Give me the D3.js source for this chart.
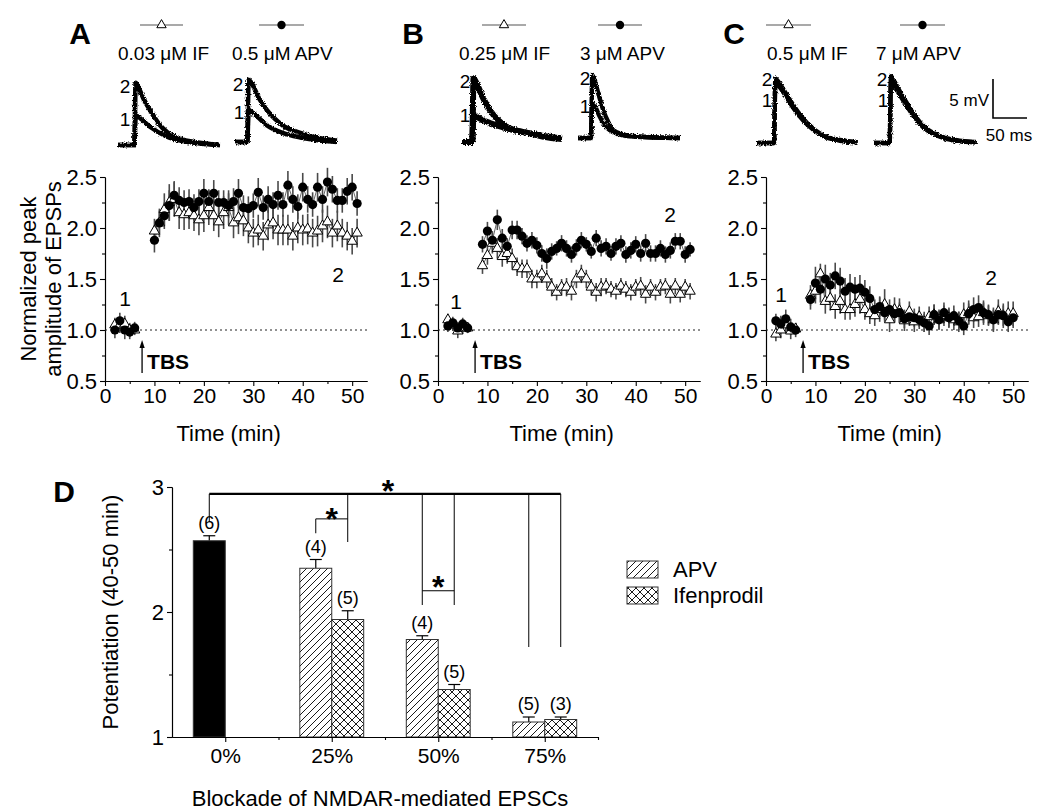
<!DOCTYPE html>
<html><head><meta charset="utf-8">
<script src="https://cdn.jsdelivr.net/npm/d3@7"></script>
<style>
body{margin:0;background:#fff}
svg{display:block}
text{font-family:Arial,"Liberation Sans",Helvetica,sans-serif;fill:#000}
</style>
</head><body>
<svg id="chart" width="1050" height="812"></svg>
<script>
// ---------------- DATA ----------------
const preT = [2,3,4,5,6];
const A_postT = [10,11,12,13,14,15,16,17,18,19,20,21,22,23,24,25,26,27,28,29,30,31,32,33,34,35,36,37,38,39,40,41,42,43,44,45,46,47,48,49,50,51];
const B_postT = [9,10,11,12,13,14,15,16,17,18,19,20,21,22,23,24,25,26,27,28,29,30,31,32,33,34,35,36,37,38,39,40,41,42,43,44,45,46,47,48,49,50,51];
const C_postT = [9,10,11,12,13,14,15,16,17,18,19,20,21,22,23,24,25,26,27,28,29,30,31,32,33,34,35,36,37,38,39,40,41,42,43,44,45,46,47,48,49,50];

// Panel A: 0.5 uM APV (circles) / 0.03 uM IF (triangles)
const A_apvPre = [1.00,1.09,1.00,0.98,1.02];
const A_apvPreErr = [0.08,0.08,0.09,0.07,0.06];
const A_ifPre = [1.05,1.05,1.06,1.00,1.00];
const A_ifPreErr = [0.07,0.08,0.08,0.07,0.05];
const A_apvPost = [1.88,2.05,2.12,2.22,2.32,2.27,2.25,2.26,2.20,2.26,2.34,2.26,2.34,2.25,2.25,2.22,2.26,2.34,2.20,2.19,2.22,2.35,2.20,2.28,2.23,2.32,2.23,2.42,2.28,2.21,2.40,2.28,2.23,2.40,2.28,2.45,2.38,2.27,2.27,2.36,2.40,2.24];
const A_apvPostErr = [0.12,0.12,0.13,0.15,0.14,0.13,0.12,0.12,0.13,0.12,0.14,0.12,0.13,0.12,0.12,0.12,0.13,0.14,0.12,0.12,0.12,0.14,0.12,0.13,0.12,0.14,0.12,0.14,0.13,0.12,0.14,0.13,0.12,0.14,0.13,0.14,0.13,0.12,0.12,0.13,0.13,0.12];
const A_ifPost = [1.97,2.05,2.18,2.25,2.28,2.15,2.13,2.15,2.12,2.08,2.12,2.20,2.12,2.06,2.15,2.20,2.05,2.10,2.07,2.00,1.95,1.98,1.92,2.03,2.05,1.98,1.98,1.98,1.92,2.00,1.98,1.99,1.95,1.97,2.02,2.06,1.95,2.02,1.95,1.92,1.87,1.95];
const A_ifPostErr = [0.12,0.14,0.16,0.18,0.17,0.16,0.15,0.16,0.15,0.15,0.16,0.17,0.15,0.15,0.16,0.17,0.15,0.16,0.15,0.15,0.14,0.15,0.14,0.15,0.16,0.15,0.15,0.15,0.14,0.15,0.15,0.15,0.14,0.15,0.16,0.16,0.14,0.15,0.14,0.14,0.13,0.14];

// Panel B: 3 uM APV / 0.25 uM IF
const B_apvPre = [1.04,1.07,1.02,1.06,1.02];
const B_apvPreErr = [0.06,0.06,0.06,0.06,0.05];
const B_ifPre = [1.10,1.05,0.99,1.02,1.02];
const B_ifPreErr = [0.06,0.06,0.07,0.06,0.05];
const B_apvPost = [1.84,1.97,1.88,2.08,1.90,1.82,1.98,1.98,1.92,1.85,1.88,1.83,1.75,1.70,1.77,1.80,1.85,1.80,1.74,1.81,1.88,1.84,1.77,1.90,1.80,1.82,1.75,1.82,1.85,1.74,1.78,1.84,1.75,1.85,1.75,1.75,1.80,1.74,1.78,1.87,1.87,1.74,1.79];
const B_apvPostErr = [0.08,0.09,0.09,0.10,0.09,0.08,0.09,0.09,0.08,0.08,0.08,0.08,0.08,0.10,0.08,0.07,0.08,0.08,0.08,0.08,0.08,0.07,0.07,0.08,0.08,0.08,0.07,0.08,0.08,0.08,0.08,0.08,0.08,0.09,0.08,0.08,0.08,0.08,0.08,0.08,0.08,0.08,0.07];
const B_ifPost = [1.63,1.73,1.85,1.80,1.72,1.75,1.70,1.62,1.60,1.60,1.50,1.50,1.55,1.50,1.42,1.37,1.42,1.42,1.38,1.50,1.55,1.50,1.42,1.37,1.42,1.43,1.40,1.38,1.43,1.40,1.37,1.42,1.43,1.35,1.42,1.37,1.42,1.43,1.35,1.43,1.35,1.42,1.38];
const B_ifPostErr = [0.08,0.09,0.10,0.10,0.10,0.10,0.10,0.09,0.09,0.09,0.09,0.09,0.09,0.09,0.09,0.08,0.08,0.09,0.09,0.09,0.09,0.09,0.08,0.09,0.09,0.08,0.08,0.08,0.08,0.08,0.08,0.08,0.09,0.09,0.08,0.08,0.08,0.08,0.09,0.08,0.08,0.08,0.08];

// Panel C: 7 uM APV / 0.5 uM IF
const C_apvPre = [1.09,1.06,1.11,1.03,1.00];
const C_apvPreErr = [0.07,0.08,0.09,0.08,0.07];
const C_ifPre = [0.96,1.00,1.05,0.99,1.01];
const C_ifPreErr = [0.07,0.08,0.07,0.08,0.06];
const C_apvPost = [1.30,1.46,1.40,1.50,1.44,1.53,1.48,1.38,1.42,1.40,1.41,1.37,1.31,1.20,1.23,1.17,1.20,1.16,1.17,1.11,1.13,1.12,1.10,1.07,1.04,1.15,1.10,1.17,1.12,1.14,1.09,1.04,1.16,1.20,1.22,1.17,1.15,1.10,1.15,1.14,1.08,1.12];
const C_apvPostErr = [0.10,0.16,0.13,0.14,0.12,0.13,0.13,0.13,0.13,0.12,0.13,0.12,0.12,0.10,0.10,0.09,0.10,0.09,0.10,0.09,0.09,0.09,0.09,0.09,0.09,0.10,0.09,0.10,0.09,0.10,0.09,0.09,0.10,0.12,0.12,0.10,0.10,0.10,0.10,0.10,0.10,0.10];
const C_ifPost = [1.34,1.38,1.55,1.28,1.31,1.23,1.28,1.20,1.20,1.25,1.30,1.20,1.16,1.14,1.20,1.25,1.10,1.20,1.19,1.09,1.18,1.08,1.13,1.08,1.13,1.15,1.10,1.14,1.12,1.10,1.08,1.15,1.17,1.12,1.13,1.17,1.14,1.10,1.18,1.14,1.16,1.16];
const C_ifPostErr = [0.10,0.12,0.10,0.12,0.12,0.12,0.12,0.10,0.10,0.12,0.14,0.10,0.10,0.10,0.12,0.15,0.12,0.12,0.12,0.10,0.10,0.10,0.10,0.10,0.10,0.10,0.10,0.10,0.10,0.10,0.10,0.12,0.12,0.10,0.10,0.12,0.10,0.12,0.12,0.12,0.12,0.12];

const yTicks = [0.5,1.0,1.5,2.0,2.5];
const yMinor = [0.75,1.25,1.75,2.25];
const xTicks = [0,10,20,30,40,50];
const xMinor = [5,15,25,35,45];

// EPSP traces: [ms, mV]
const trA_IF_2 = [[0,0],[24,0],[26,8.2],[30,7.6],[38,6.0],[47,4.6],[60,2.8],[72,1.7],[96,0.7],[120,0.3],[150,0]];
const trA_IF_1 = [[0,0],[24,0],[26,3.9],[30,3.7],[47,2.4],[72,1.1],[96,0.5],[120,0.2],[150,0]];
const trA_APV_2 = [[0,0],[18,0],[20,8.2],[24,7.8],[35,5.8],[47,4.2],[58,3.1],[70,2.2],[96,1.2],[125,0.5],[150,0.2]];
const trA_APV_1 = [[0,0],[18,0],[20,4.2],[24,4.0],[47,2.2],[70,1.2],[96,0.6],[125,0.2],[150,0]];
const trB_IF_2 = [[0,0],[15,0],[17,8.4],[22,7.6],[32,5.6],[41,4.2],[54,2.8],[66,2.0],[96,1.2],[120,0.7],[147,0.4]];
const trB_IF_1 = [[0,0],[15,0],[17,3.6],[22,3.3],[41,2.5],[66,1.8],[96,1.2],[120,0.8],[147,0.5]];
const trB_APV_2 = [[0,0],[19,0],[21,8.3],[25,7.4],[31,5.5],[37,3.7],[44,2.2],[51,1.1],[65,0.5],[90,0.2],[150,0]];
const trB_APV_1 = [[0,0],[19,0],[21,4.6],[25,4.2],[31,3.0],[37,2.0],[51,0.8],[80,0.2],[150,0]];
const trC_IF_2 = [[0,0],[25,0],[27,8.5],[32,8.0],[40,6.9],[49,5.6],[61,4.0],[74,2.6],[97,1.0],[122,0.4],[148,0.1]];
const trC_IF_1 = [[0,0],[25,0],[27,7.9],[32,7.5],[40,6.5],[49,5.2],[61,3.7],[74,2.4],[97,0.9],[122,0.3],[148,0.1]];
const trC_APV_2 = [[0,0],[23,0],[25,8.8],[30,8.1],[38,6.8],[48,5.3],[60,3.6],[72,2.3],[95,1.0],[120,0.4],[151,0.1]];
const trC_APV_1 = [[0,0],[23,0],[25,8.0],[30,7.5],[38,6.3],[48,4.9],[60,3.3],[72,2.1],[95,0.9],[120,0.3],[151,0.1]];

// Panel D
const groups = ["0%","25%","50%","75%"];
const ctrlVal = [2.57], ctrlErr = [0.04], ctrlN = ["(6)"];
const apvGroups = [1,2,3];
const apvVal = [2.35,1.78,1.12], apvErr = [0.07,0.03,0.04], apvN = ["(4)","(4)","(5)"];
const ifVal = [1.94,1.38,1.14], ifErr = [0.07,0.04,0.02], ifN = ["(5)","(5)","(3)"];
const dTicks = [1,2,3], dMinor = [1.5,2.5];

// ---------------- DRAW ----------------
const svg = d3.select("#chart");
const FONT = 'Arial,"Liberation Sans",sans-serif';

// noisy-recording texture for the EPSP traces
const defs = svg.append("defs");
const flt = defs.append("filter").attr("id", "noisy").attr("x", "-10%").attr("y", "-20%")
  .attr("width", "120%").attr("height", "140%");
flt.append("feTurbulence").attr("type", "fractalNoise").attr("baseFrequency", "0.9")
  .attr("numOctaves", 1).attr("seed", 3).attr("result", "turb");
flt.append("feDisplacementMap").attr("in", "SourceGraphic").attr("in2", "turb")
  .attr("scale", 4).attr("xChannelSelector", "R").attr("yChannelSelector", "G");

function text(x, y, s, size, opts = {}) {
  const t = svg.append("text").attr("x", x).attr("y", y).text(s)
    .attr("font-size", size).attr("text-anchor", opts.anchor || "middle");
  if (opts.bold) t.attr("font-weight", "bold");
  return t;
}

const tri = d3.symbol().type(d3.symbolTriangle).size(46);

function panel(cfg) {
  const x = d3.scaleLinear().domain([0, 53]).range([cfg.left, cfg.left + 262]);
  const y = d3.scaleLinear().domain([0.5, 2.5]).range([381, 177]);
  const g = svg.append("g");

  // axes
  const ya = g.append("g").attr("transform", `translate(${cfg.left},0)`)
    .call(d3.axisLeft(y).tickValues(yTicks).tickFormat(d3.format(".1f")).tickSize(5).tickSizeOuter(0).tickPadding(3));
  g.append("g").attr("transform", `translate(${cfg.left},0)`)
    .call(d3.axisLeft(y).tickValues(yMinor).tickFormat("").tickSize(3).tickSizeOuter(0));
  const xa = g.append("g").attr("transform", "translate(0,381)")
    .call(d3.axisBottom(x).tickValues(xTicks).tickFormat(d3.format("d")).tickSize(5).tickSizeOuter(0).tickPadding(2));
  g.append("g").attr("transform", "translate(0,381)")
    .call(d3.axisBottom(x).tickValues(xMinor).tickFormat("").tickSize(3).tickSizeOuter(0));
  g.selectAll(".domain, .tick line").attr("stroke", "#000").attr("stroke-width", 1.1);
  ya.selectAll("text").attr("font-size", 22).attr("font-family", FONT).attr("dy", "0.35em");
  xa.selectAll("text").attr("font-size", 21).attr("font-family", FONT);

  // dotted baseline
  g.append("line").attr("x1", x(0)).attr("x2", x(53)).attr("y1", y(1)).attr("y2", y(1))
    .attr("stroke", "#222").attr("stroke-dasharray", "2,3").attr("stroke-width", 1);

  const series = [
    {t: preT, v: cfg.ifPre, e: cfg.ifPreErr, kind: "tri"},
    {t: cfg.postT, v: cfg.ifPost, e: cfg.ifPostErr, kind: "tri"},
    {t: preT, v: cfg.apvPre, e: cfg.apvPreErr, kind: "dot"},
    {t: cfg.postT, v: cfg.apvPost, e: cfg.apvPostErr, kind: "dot"}
  ];
  // error bars
  series.forEach(s => {
    g.append("g").selectAll("line").data(s.v).join("line")
      .attr("x1", (d, i) => x(s.t[i])).attr("x2", (d, i) => x(s.t[i]))
      .attr("y1", (d, i) => y(d - s.e[i])).attr("y2", (d, i) => y(d + s.e[i]))
      .attr("stroke", "#4a4a4a").attr("stroke-width", 1.6);
  });
  // connecting lines
  series.forEach(s => {
    const line = d3.line().x((d, i) => x(s.t[i])).y(d => y(d));
    g.append("path").attr("d", line(s.v)).attr("fill", "none")
      .attr("stroke", "#666").attr("stroke-width", 1);
  });
  // markers
  series.filter(s => s.kind === "tri").forEach(s => {
    g.append("g").selectAll("path").data(s.v).join("path")
      .attr("d", tri).attr("transform", (d, i) => `translate(${x(s.t[i])},${y(d)})`)
      .attr("fill", "#fff").attr("stroke", "#000").attr("stroke-width", 1);
  });
  series.filter(s => s.kind === "dot").forEach(s => {
    g.append("g").selectAll("circle").data(s.v).join("circle")
      .attr("cx", (d, i) => x(s.t[i])).attr("cy", d => y(d)).attr("r", 4.6).attr("fill", "#000");
  });

  // TBS arrow
  const ax = x(7.5);
  g.append("line").attr("x1", ax).attr("x2", ax).attr("y1", 373).attr("y2", 346)
    .attr("stroke", "#000").attr("stroke-width", 1.3);
  g.append("path").attr("d", `M${ax},340 L${ax - 2.6},348 L${ax + 2.6},348 Z`).attr("fill", "#000");
  text(ax + 5, 369, "TBS", 21, {anchor: "start", bold: true});

  // 1 and 2 labels
  text(cfg.l1[0], cfg.l1[1], "1", 21);
  text(cfg.l2[0], cfg.l2[1], "2", 21);

  // x title
  text(x(25), 441, "Time (min)", 22);

  // panel letter
  text(cfg.letter[0], 44, cfg.letter[2], 30, {bold: true});

  // legends above traces
  cfg.legend.forEach(L => {
    g.append("line").attr("x1", L.x1).attr("x2", L.x2).attr("y1", 25).attr("y2", 25)
      .attr("stroke", "#555").attr("stroke-width", 1.2);
    if (L.kind === "tri") {
      g.append("path").attr("d", d3.symbol().type(d3.symbolTriangle).size(38))
        .attr("transform", `translate(${(L.x1 + L.x2) / 2},25)`)
        .attr("fill", "#fff").attr("stroke", "#000").attr("stroke-width", 1);
    } else {
      g.append("circle").attr("cx", (L.x1 + L.x2) / 2).attr("cy", 25).attr("r", 4.2).attr("fill", "#000");
    }
    text(L.tx, 60, L.label, 19, {anchor: "start"});
  });

  // traces
  cfg.traces.forEach(T => {
    const tx = d3.scaleLinear().domain([0, 150]).range([T.x0, T.x0 + 102]);
    const ty = d3.scaleLinear().domain([0, 5]).range([T.y0, T.y0 - 38]);
    const line = d3.line().x(d => tx(d[0])).y(d => ty(d[1])).curve(d3.curveMonotoneX);
    const tg = g.append("g").attr("filter", "url(#noisy)");
    [T.t1, T.t2].forEach(tr => {
      tg.append("path").attr("d", line(tr)).attr("fill", "none").attr("stroke", "#000")
        .attr("stroke-width", T.w).attr("stroke-linejoin", "round");
    });
    text(T.lab2[0], T.lab2[1], "2", 19);
    text(T.lab1[0], T.lab1[1], "1", 19);
  });
}

panel({
  left: 105, postT: A_postT,
  apvPre: A_apvPre, apvPreErr: A_apvPreErr, ifPre: A_ifPre, ifPreErr: A_ifPreErr,
  apvPost: A_apvPost, apvPostErr: A_apvPostErr, ifPost: A_ifPost, ifPostErr: A_ifPostErr,
  l1: [125, 306], l2: [338, 282], letter: [80, 0, "A"],
  legend: [{x1: 140, x2: 183, kind: "tri", tx: 118, label: "0.03 \u03BCM IF"},
           {x1: 259, x2: 304, kind: "dot", tx: 232, label: "0.5 \u03BCM APV"}],
  traces: [{x0: 118, y0: 145, t1: trA_IF_1, t2: trA_IF_2, w: 4.6, lab2: [125, 93], lab1: [125, 126]},
           {x0: 235, y0: 142, t1: trA_APV_1, t2: trA_APV_2, w: 4.6, lab2: [238, 91], lab1: [239, 119]}]
});
panel({
  left: 438, postT: B_postT,
  apvPre: B_apvPre, apvPreErr: B_apvPreErr, ifPre: B_ifPre, ifPreErr: B_ifPreErr,
  apvPost: B_apvPost, apvPostErr: B_apvPostErr, ifPost: B_ifPost, ifPostErr: B_ifPostErr,
  l1: [456, 309], l2: [670, 222], letter: [413, 0, "B"],
  legend: [{x1: 482, x2: 526, kind: "tri", tx: 459, label: "0.25 \u03BCM IF"},
           {x1: 598, x2: 642, kind: "dot", tx: 580, label: "3 \u03BCM APV"}],
  traces: [{x0: 462, y0: 142, t1: trB_IF_1, t2: trB_IF_2, w: 6, lab2: [465, 88], lab1: [465, 122]},
           {x0: 578, y0: 138, t1: trB_APV_1, t2: trB_APV_2, w: 4.4, lab2: [585, 85], lab1: [585, 113]}]
});
panel({
  left: 766, postT: C_postT,
  apvPre: C_apvPre, apvPreErr: C_apvPreErr, ifPre: C_ifPre, ifPreErr: C_ifPreErr,
  apvPost: C_apvPost, apvPostErr: C_apvPostErr, ifPost: C_ifPost, ifPostErr: C_ifPostErr,
  l1: [781, 302], l2: [991, 285], letter: [734, 0, "C"],
  legend: [{x1: 766, x2: 811, kind: "tri", tx: 767, label: "0.5 \u03BCM IF"},
           {x1: 900, x2: 945, kind: "dot", tx: 876, label: "7 \u03BCM APV"}],
  traces: [{x0: 757, y0: 143, t1: trC_IF_1, t2: trC_IF_2, w: 4.4, lab2: [767, 86], lab1: [767, 107]},
           {x0: 874, y0: 143, t1: trC_APV_1, t2: trC_APV_2, w: 4.4, lab2: [882, 86], lab1: [883, 107]}]
});

// scale bar
svg.append("path").attr("d", "M993,79 L993,118 L1027,118").attr("fill", "none")
  .attr("stroke", "#000").attr("stroke-width", 1.6);
text(989, 106, "5 mV", 17, {anchor: "end"});
text(1009, 141, "50 ms", 17);

// y titles (top row)
svg.append("text").attr("transform", "translate(36,279) rotate(-90)").attr("text-anchor", "middle")
  .attr("font-size", 22).text("Normalized peak");
svg.append("text").attr("transform", "translate(61,279) rotate(-90)").attr("text-anchor", "middle")
  .attr("font-size", 22).text("amplitude of EPSPs");

// ---------------- PANEL D ----------------
const p1 = defs.append("pattern").attr("id", "hatch").attr("patternUnits", "userSpaceOnUse")
  .attr("width", 7).attr("height", 7);
p1.append("rect").attr("width", 7).attr("height", 7).attr("fill", "#fff");
p1.append("path").attr("d", "M0,7 L7,0 M-1,1 L1,-1 M6,8 L8,6").attr("stroke", "#000").attr("stroke-width", 0.9);
const p2 = defs.append("pattern").attr("id", "cross").attr("patternUnits", "userSpaceOnUse")
  .attr("width", 8).attr("height", 8);
p2.append("rect").attr("width", 8).attr("height", 8).attr("fill", "#fff");
p2.append("path").attr("d", "M0,8 L8,0 M-1,1 L1,-1 M7,9 L9,7 M0,0 L8,8 M-1,7 L1,9 M7,-1 L9,1")
  .attr("stroke", "#000").attr("stroke-width", 0.9);

const xD = d3.scaleLinear().domain([-0.5, 3.5]).range([172, 598]);
const yD = d3.scaleLinear().domain([1, 3]).range([737, 487]);
const bw = 0.3;
const gD = svg.append("g");

// bars
function bar(pos0, pos1, v, e, n, fill) {
  gD.append("line").attr("x1", xD((pos0 + pos1) / 2)).attr("x2", xD((pos0 + pos1) / 2))
    .attr("y1", yD(v)).attr("y2", yD(v + e)).attr("stroke", "#000").attr("stroke-width", 1.2);
  gD.append("line").attr("x1", xD((pos0 + pos1) / 2) - 6).attr("x2", xD((pos0 + pos1) / 2) + 6)
    .attr("y1", yD(v + e)).attr("y2", yD(v + e)).attr("stroke", "#000").attr("stroke-width", 1.2);
  gD.append("rect").attr("x", xD(pos0)).attr("width", xD(pos1) - xD(pos0))
    .attr("y", yD(v)).attr("height", yD(1) - yD(v))
    .attr("fill", fill).attr("stroke", "#333").attr("stroke-width", 1);
  gD.append("text").attr("x", xD((pos0 + pos1) / 2)).attr("y", yD(v + e) - 7)
    .attr("text-anchor", "middle").attr("font-size", 18).text(n);
}
ctrlVal.forEach((v, i) => bar(0 - bw, 0, v, ctrlErr[i], ctrlN[i], "#000"));
apvVal.forEach((v, i) => bar(apvGroups[i] - bw, apvGroups[i], v, apvErr[i], apvN[i], "url(#hatch)"));
ifVal.forEach((v, i) => bar(apvGroups[i], apvGroups[i] + bw, v, ifErr[i], ifN[i], "url(#cross)"));

// axes D
const yaD = gD.append("g").attr("transform", "translate(172,0)")
  .call(d3.axisLeft(yD).tickValues(dTicks).tickFormat(d3.format("d")).tickSize(5).tickSizeOuter(0).tickPadding(3));
gD.append("g").attr("transform", "translate(172,0)")
  .call(d3.axisLeft(yD).tickValues(dMinor).tickFormat("").tickSize(3).tickSizeOuter(0));
const xaD = gD.append("g").attr("transform", "translate(0,737)")
  .call(d3.axisBottom(xD).tickValues([0, 1, 2, 3]).tickFormat(i => groups[i]).tickSize(5).tickSizeOuter(0).tickPadding(6));
gD.append("g").attr("transform", "translate(0,737)")
  .call(d3.axisBottom(xD).tickValues([0.5, 1.5, 2.5, 3.5]).tickFormat("").tickSize(3).tickSizeOuter(0));
gD.selectAll(".domain, .tick line").attr("stroke", "#000").attr("stroke-width", 1.1);
yaD.selectAll("text").attr("font-size", 22).attr("font-family", FONT).attr("dy", "0.35em");
xaD.selectAll("text").attr("font-size", 21).attr("font-family", FONT);

// significance brackets
const ctrC = xD(-bw / 2), apv = g => xD(g - bw / 2), ifc = g => xD(g + bw / 2);
function seg(x1, y1, x2, y2, w) {
  gD.append("line").attr("x1", x1).attr("y1", y1).attr("x2", x2).attr("y2", y2)
    .attr("stroke", "#000").attr("stroke-width", w || 1);
}
const yTop = yD(2.945);
seg(ctrC, yTop, ifc(3), yTop, 2.2);
seg(ctrC, yTop, ctrC, yD(2.72));
seg(ifc(1), yTop, ifc(1), yD(2.56));
seg(apv(2), yTop, apv(2), yD(2.056));
seg(ifc(2), yTop, ifc(2), yD(2.056));
seg(apv(3), yTop, apv(3), yD(1.72));
seg(ifc(3), yTop, ifc(3), yD(1.72));
seg(apv(1), yD(2.745), ifc(1), yD(2.745));
seg(apv(1), yD(2.745), apv(1), yD(2.63));
seg(apv(2), yD(2.17), ifc(2), yD(2.17));
function star(x, yc) {
  gD.append("text").attr("x", x).attr("y", yc + 18).attr("text-anchor", "middle")
    .attr("font-size", 32).attr("font-weight", "bold").text("*");
}
star(388, 484);
star((apv(1) + ifc(1)) / 2, 512);
star((apv(2) + ifc(2)) / 2, 580);

// D titles
text(64, 502, "D", 30, {bold: true});
svg.append("text").attr("transform", "translate(118,612) rotate(-90)").attr("text-anchor", "middle")
  .attr("font-size", 22).text("Potentiation (40-50 min)");
text(380, 806, "Blockade of NMDAR-mediated EPSCs", 22);

// legend D
const legD = [{label: "APV", fill: "url(#hatch)", y: 561}, {label: "Ifenprodil", fill: "url(#cross)", y: 587}];
legD.forEach(L => {
  svg.append("rect").attr("x", 627).attr("y", L.y).attr("width", 31).attr("height", 17)
    .attr("fill", L.fill).attr("stroke", "#333").attr("stroke-width", 1);
  text(673, L.y + 16, L.label, 22, {anchor: "start"});
});
</script>
</body></html>
